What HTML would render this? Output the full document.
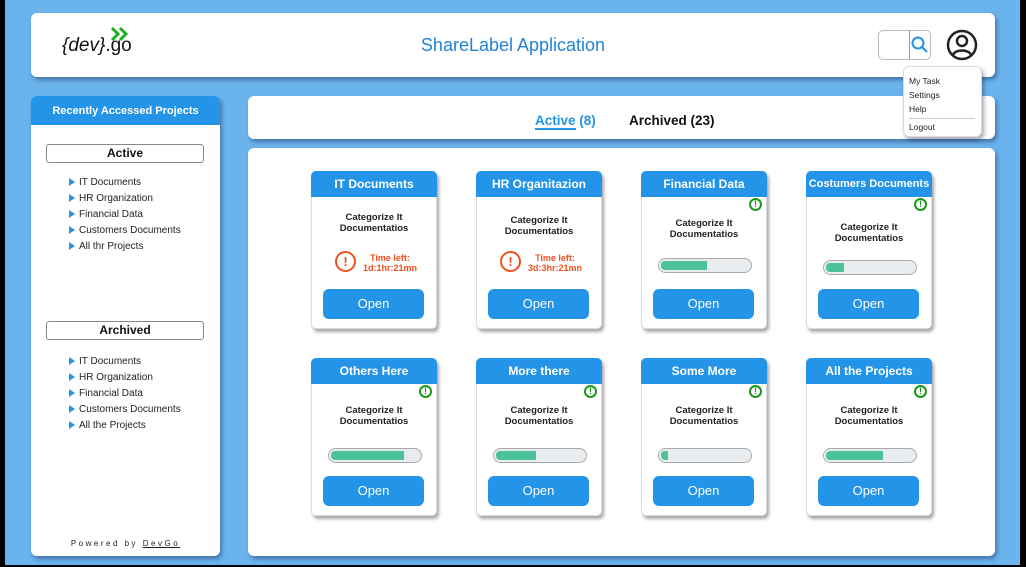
<!DOCTYPE html>
<html><head><meta charset="utf-8"><style>
*{box-sizing:border-box;margin:0;padding:0}
body{width:1026px;height:567px;overflow:hidden;background:#000;font-family:"Liberation Sans",sans-serif;position:relative}
.bg{position:absolute;left:5px;top:0;width:1015px;height:565px;background:#6ab3ec}
.box{position:absolute;background:#fff;border-radius:6px;box-shadow:2px 3px 4px rgba(0,0,50,.35)}
.abs{position:absolute}
.sb-h{position:absolute;left:0;top:0;width:100%;height:29px;background:#2394e8;border-radius:6px 6px 0 0;color:#fff;font-weight:bold;font-size:11px;text-align:center;line-height:31px}
.pill{position:absolute;left:15px;width:158px;height:19px;border:1px solid #888;border-radius:3px;text-align:center;font-weight:bold;font-size:12px;line-height:17px;color:#111}
.list{position:absolute;left:38px;font-size:10px;color:#222;line-height:16px}
.list div:before{content:"";display:inline-block;width:0;height:0;border-left:6px solid #2394e8;border-top:4px solid transparent;border-bottom:4px solid transparent;margin-right:4px;vertical-align:-1px}
.card{position:absolute;width:126px;height:158px;background:#fff;border-radius:5px;box-shadow:2px 3px 3px rgba(0,0,0,.35);border:1px solid #ddd}
.ch{height:26px;background:#2394e8;border-radius:5px 5px 0 0;color:#fff;font-weight:bold;font-size:12px;text-align:center;line-height:26px;margin:-1px -1px 0 -1px;white-space:nowrap;overflow:hidden}
.ct{position:absolute;left:0;width:100%;text-align:center;font-size:9.5px;font-weight:bold;color:#222;line-height:11px}
.btn{position:absolute;left:11px;top:117px;width:101px;height:30px;background:#2394e8;border-radius:6px;color:#fff;font-size:13px;text-align:center;line-height:30px}
.bar{position:absolute;left:16px;width:94px;height:15px;border:1px solid #aaa;border-radius:8px;background:#e9ecef;overflow:hidden}
.bar i{display:block;height:100%;background:#4bc29c;border:2px solid #e9ecef;border-radius:6px 0 0 6px}
.warn{position:absolute;right:4px;top:26px;width:13px;height:13px;border:2px solid #1a9a1a;border-radius:50%;color:#1a9a1a;font-size:9px;font-weight:bold;text-align:center;line-height:9px}
.red{position:absolute;left:23px;top:79px;width:21px;height:21px;border:2px solid #f0501e;border-radius:50%;color:#f0501e;font-weight:bold;font-size:13px;text-align:center;line-height:17px}
.tl{position:absolute;left:48px;top:81px;width:60px;text-align:center;color:#f0501e;font-size:9px;font-weight:bold;line-height:10px}
</style></head><body>
<div class="bg"></div>
<div class="box" style="left:31px;top:13px;width:964px;height:64px">
  <div class="abs" style="left:31px;top:22px;font-size:19px;font-style:italic;color:#111">{dev}<span style="font-style:normal">.go</span></div>
  <svg class="abs" style="left:80px;top:14px" width="22" height="14"><path d="M1 1l6 6-6 6M9 1l6 6-6 6" stroke="#1fae1f" stroke-width="3" fill="none"/></svg>
  <div class="abs" style="left:0;width:964px;top:22px;text-align:center;font-size:18px;color:#2382d6">ShareLabel Application</div>
  <div class="abs" style="left:847px;top:17px;width:53px;height:30px;border:1px solid #bbb;border-radius:5px"><div class="abs" style="left:30px;top:0;width:1px;height:28px;background:#999"></div>
  <svg class="abs" style="left:32px;top:5px" width="18" height="18"><circle cx="7" cy="7" r="5.5" stroke="#2394e8" stroke-width="2" fill="none"/><path d="M11 11l5 5" stroke="#2394e8" stroke-width="2"/></svg></div>
  <svg class="abs" style="left:915px;top:16px" width="32" height="32"><circle cx="16" cy="16" r="14" stroke="#222" stroke-width="2.5" fill="none"/><circle cx="16" cy="12" r="5" stroke="#222" stroke-width="2.5" fill="none"/><path d="M7 26c2-6 16-6 18 0" stroke="#222" stroke-width="2.5" fill="none"/></svg>
</div>
<div class="box" style="left:31px;top:96px;width:189px;height:460px">
  <div class="sb-h">Recently Accessed Projects</div>
  <div class="pill" style="top:48px">Active</div>
  <div class="list" style="top:79px"><div>IT Documents</div><div>HR Organization</div><div>Financial Data</div><div>Customers Documents</div><div>All thr Projects</div></div>
  <div class="pill" style="top:225px">Archived</div>
  <div class="list" style="top:258px"><div>IT Documents</div><div>HR Organization</div><div>Financial Data</div><div>Customers Documents</div><div>All the Projects</div></div>
  <div class="abs" style="left:0;width:189px;top:443px;text-align:center;font-size:8px;letter-spacing:2.5px;color:#222">Powered by <u>DevGo</u></div>
</div>
<div class="box" style="left:248px;top:96px;width:747px;height:43px">
  <div class="abs" style="left:287px;top:17px;font-size:13.5px;font-weight:bold;color:#2394e8"><span style="border-bottom:2px solid #2394e8">Active</span> (8)</div>
  <div class="abs" style="left:381px;top:17px;font-size:13.5px;font-weight:bold;color:#111">Archived (23)</div>
</div>
<div class="box" style="left:248px;top:148px;width:747px;height:408px"></div>

<div class="card" style="left:311px;top:171px"><div class="ch">IT Documents</div><div class="ct" style="top:40px">Categorize It<br>Documentatios</div><div class="red">!</div><div class="tl">Time left:<br>1d:1hr:21mn</div><div class="btn">Open</div></div>
<div class="card" style="left:476px;top:171px"><div class="ch">HR Organitazion</div><div class="ct" style="top:43px">Categorize It<br>Documentatios</div><div class="red">!</div><div class="tl">Time left:<br>3d:3hr:21mn</div><div class="btn">Open</div></div>
<div class="card" style="left:641px;top:171px"><div class="ch">Financial Data</div><div class="warn">!</div><div class="ct" style="top:46px">Categorize It<br>Documentatios</div><div class="bar" style="top:86px"><i style="width:54%"></i></div><div class="btn">Open</div></div>
<div class="card" style="left:806px;top:171px"><div class="ch" style="font-size:11px">Costumers Documents</div><div class="warn">!</div><div class="ct" style="top:50px">Categorize It<br>Documentatios</div><div class="bar" style="top:88px"><i style="width:24%"></i></div><div class="btn">Open</div></div>

<div class="card" style="left:311px;top:358px"><div class="ch">Others Here</div><div class="warn">!</div><div class="ct" style="top:46px">Categorize It<br>Documentatios</div><div class="bar" style="top:89px"><i style="width:84%"></i></div><div class="btn">Open</div></div>
<div class="card" style="left:476px;top:358px"><div class="ch">More there</div><div class="warn">!</div><div class="ct" style="top:46px">Categorize It<br>Documentatios</div><div class="bar" style="top:89px"><i style="width:48%"></i></div><div class="btn">Open</div></div>
<div class="card" style="left:641px;top:358px"><div class="ch">Some More</div><div class="warn">!</div><div class="ct" style="top:46px">Categorize It<br>Documentatios</div><div class="bar" style="top:89px"><i style="width:12%"></i></div><div class="btn">Open</div></div>
<div class="card" style="left:806px;top:358px"><div class="ch">All the Projects</div><div class="warn">!</div><div class="ct" style="top:46px">Categorize It<br>Documentatios</div><div class="bar" style="top:89px"><i style="width:66%"></i></div><div class="btn">Open</div></div>

<div class="box" style="left:903px;top:66px;width:79px;height:71px;border:1px solid #ddd;font-size:8.5px;color:#222;line-height:14px;padding:7px 0 0 5px">
  <div>My Task</div><div>Settings</div><div>Help</div>
  <div style="border-top:1px solid #ccc;margin:2px 6px 0 0;padding-top:1px">Logout</div>
</div>
</body></html>
